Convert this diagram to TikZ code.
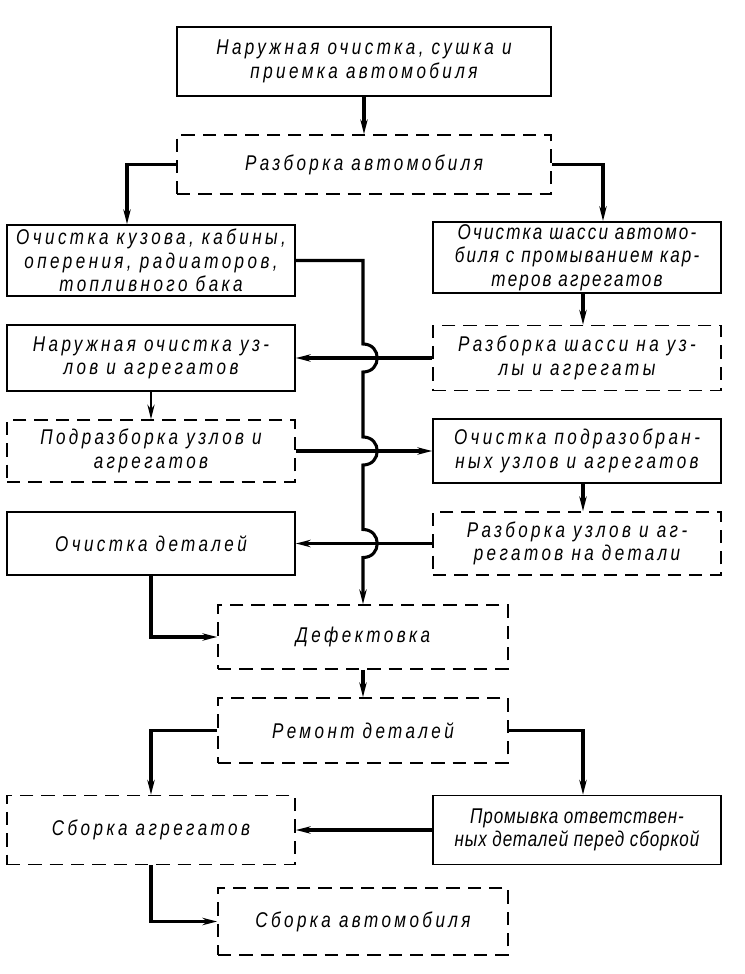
\documentclass[tikz,border=0pt]{standalone}
\usepackage{fontspec}
\setmainfont{Liberation Sans}
\newfontfamily\gost{Liberation Sans}[FakeStretch=0.8, LetterSpace=16]
\usetikzlibrary{arrows.meta,calc}

\begin{document}
\begin{tikzpicture}[x=0.75pt,y=-0.75pt,>={Stealth[length=11pt,width=5.5pt]}]

\tikzstyle{block} = [rectangle, draw, line width=1.3pt, align=center, inner sep=2pt, font=\fsize]
\tikzstyle{dblock} = [block, dash pattern=on 10pt off 6pt]
\tikzstyle{line} = [line width=2.3pt]
\tikzstyle{thinline} = [line width=0.9pt]

\def \fsize{\gost\itshape\fontsize{16}{17.5}\selectfont}

\useasboundingbox (0,0) rectangle (744,974);

%Washing and disassembly of the car
\node[block, minimum width=280.5pt, minimum height=51.75pt](wash) at (364,61.5){Наружная очистка, сушка и\\приемка автомобиля};
\node[dblock, minimum width=280.5pt, minimum height=44.25pt](strip) at (364,164.5){Разборка автомобиля};

%Left column
\node[block, minimum width=216pt, minimum height=53.25pt](body) at (151,260.5){Очистка кузова, кабины,\\оперения, радиаторов,\\топливного бака};
\node[block, minimum width=216pt, minimum height=49.5pt](outer) at (151,358){Наружная очистка уз-\\лов и агрегатов};
\node[dblock, minimum width=216pt, minimum height=46.5pt](substrip) at (151,451){Подразборка узлов и\\агрегатов};
\node[block, minimum width=216pt, minimum height=47.25pt](parts) at (151,543.5){Очистка деталей};

%Right column
\node[block, minimum width=216pt, minimum height=51.75pt, font=\fsize\addfontfeatures{LetterSpace=10}](chassis) at (577,257.5){Очистка шасси автомо-\\биля с промыванием кар-\\теров агрегатов};
\node[dblock, minimum width=216pt, minimum height=48.75pt](chstrip) at (577,358){Разборка шасси на уз-\\лы и агрегаты};
\node[block, minimum width=216pt, minimum height=48pt](subwash) at (577,451){Очистка подразобран-\\ных узлов и агрегатов};
\node[dblock, minimum width=216pt, minimum height=47.25pt](unitstrip) at (577,543.5){Разборка узлов и аг-\\регатов на детали};

%Middle column
\node[dblock, minimum width=217.5pt, minimum height=48pt](defect) at (363,637){Дефектовка};
\node[dblock, minimum width=217.5pt, minimum height=48.75pt](repair) at (363,730.5){Ремонт деталей};

%Assembly
\node[dblock, minimum width=216pt, minimum height=51.75pt](unitasm) at (151,830){Сборка агрегатов};
\node[block, minimum width=216pt, minimum height=51.75pt, font=\fsize\addfontfeatures{LetterSpace=4}](rinse) at (577,830){Промывка ответствен-\\ных деталей перед сборкой};
\node[dblock, minimum width=217.5pt, minimum height=50.25pt](carasm) at (363,921.5){Сборка автомобиля};

%From car disassembly to both columns
\draw[line,->] (wash.south) -- (strip.north);
\draw[line,->] (strip.west) -| ($(body.north)+(-24,0)$);
\draw[line,->] (strip.east) -| ($(chassis.north)+(26,0)$);

%Bus down the middle with hops over the crossing lines
\coordinate (hopa) at (defect.north |- chstrip.west);
\coordinate (hopb) at (defect.north |- substrip.east);
\coordinate (hopc) at (defect.north |- unitstrip.west);
\draw[line,->] (body.east) -| ($(hopa)+(0,-14)$)
  .. controls ($(hopa)+(19,-14)$) and ($(hopa)+(19,14)$) .. ($(hopa)+(0,14)$)
  -- ($(hopb)+(0,-14)$)
  .. controls ($(hopb)+(19,-14)$) and ($(hopb)+(19,14)$) .. ($(hopb)+(0,14)$)
  -- ($(hopc)+(0,-14)$)
  .. controls ($(hopc)+(19,-14)$) and ($(hopc)+(19,14)$) .. ($(hopc)+(0,14)$)
  -- (defect.north);

%Crossing lines
\draw[line,->] (chstrip.west) -- (outer.east);
\draw[line,->] (substrip.east) -- (subwash.west);
\draw[line,->] (unitstrip.west) -- (parts.east);

%Down the columns
\draw[thinline,->] (outer.south) -- (substrip.north);
\draw[line,->] ([xshift=4.5pt]chassis.south) -- ([xshift=4.5pt]chstrip.north);
\draw[line,->] ([xshift=4.5pt]subwash.south) -- ([xshift=4.5pt]unitstrip.north);
\draw[line,->] (parts.south) |- (defect.west);
\draw[line,->] (defect.south) -- (repair.north);

%Repair to assembly
\draw[line,->] (repair.west) -| (unitasm.north);
\draw[line,->] (repair.east) -| ([xshift=4.5pt]rinse.north);
\draw[line,->] (rinse.west) -- (unitasm.east);
\draw[line,->] (unitasm.south) |- (carasm.west);

\end{tikzpicture}
\end{document}
